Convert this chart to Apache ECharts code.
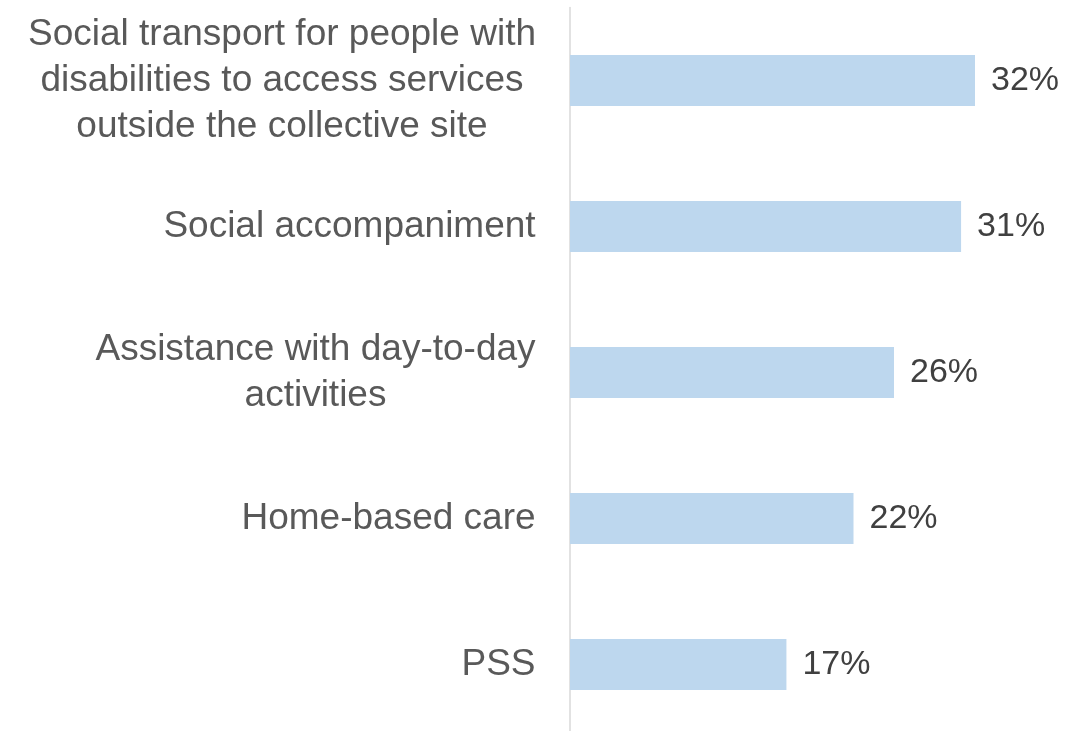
<!DOCTYPE html>
<html>
<head>
<meta charset="utf-8">
<script src="https://cdn.jsdelivr.net/npm/echarts@6/dist/echarts.min.js"></script>
<style>
  html, body { margin: 0; padding: 0; background: #fff; }
  #root { width: 1077px; height: 731px; }
</style>
</head>
<body>
<div id="root"></div>
<script>
// Chart data, top to bottom
var categories = [
  "Social transport for people with\ndisabilities to access services\noutside the collective site",
  "Social accompaniment",
  "Assistance with day-to-day\nactivities",
  "Home-based care",
  "PSS"
];
var values = [32.0, 30.9, 25.6, 22.4, 17.1];

(function () {
  const labelFont = "37px 'Liberation Sans', Arial, sans-serif";

  // Measure wrapped lines so each block is centred in itself but right-aligned to the axis
  const ctx = document.createElement("canvas").getContext("2d");
  ctx.font = labelFont;
  const rich = {};
  categories.forEach((c, i) => {
    const w = Math.max.apply(null, c.split("\n").map((l) => ctx.measureText(l).width));
    rich["w" + i] = {
      width: Math.ceil(w),
      align: "center",
      fontSize: 37,
      fontFamily: "'Liberation Sans', Arial, sans-serif",
      color: "#595959",
      lineHeight: 46
    };
  });

  const myChart = echarts.init(document.getElementById("root"));
  const option = {
    backgroundColor: "#FFFFFF",
    animation: false,
    grid: {
      left: 570,
      right: 0.75,
      top: 7.5,
      height: 730,
      containLabel: false,
      outerBoundsMode: "none"
    },
    xAxis: {
      type: "value",
      min: 0,
      max: 40,
      show: false
    },
    yAxis: {
      type: "category",
      inverse: true,
      data: categories,
      axisLine: { show: true, lineStyle: { color: "#d9d9d9", width: 1.5 } },
      axisTick: { show: false },
      splitLine: { show: false },
      axisLabel: {
        margin: 34,
        fontSize: 37,
        fontFamily: "'Liberation Sans', Arial, sans-serif",
        color: "#595959",
        lineHeight: 46,
        formatter: (value, index) =>
          value.split("\n").map((l) => "{w" + index + "|" + l + "}").join("\n"),
        rich: rich
      }
    },
    series: [
      {
        type: "bar",
        data: values,
        barWidth: 51,
        itemStyle: { color: "#BDD7EE" },
        label: {
          show: true,
          position: "right",
          distance: 16,
          fontSize: 34,
          fontFamily: "'Liberation Sans', Arial, sans-serif",
          color: "#404040",
          formatter: (p) => Math.round(p.value) + "%"
        }
      }
    ]
  };

  myChart.setOption(option);
})();
</script>
</body>
</html>
